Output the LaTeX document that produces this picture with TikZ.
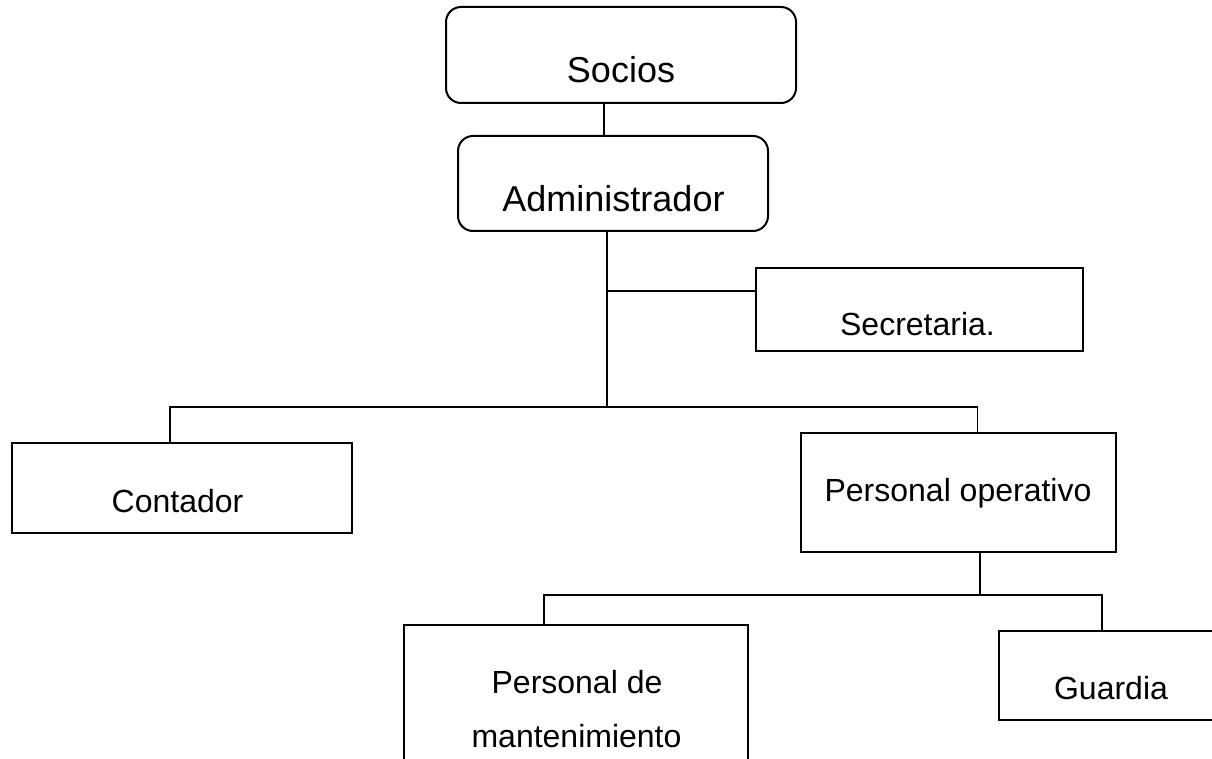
\documentclass[tikz,border=0pt]{standalone}
\usepackage{fontspec}
\setmainfont{Liberation Sans}
\begin{document}
\begin{tikzpicture}[x=1pt,y=-1pt,
  box/.style={draw, line width=2pt, inner sep=0pt, outer sep=0pt},
  rbox/.style={box, rounded corners=15pt},
  conn/.style={draw, line width=1.1pt},
  big/.style={anchor=base, inner sep=0pt, font=\fontsize{36}{43}\selectfont},
  txt/.style={anchor=base, inner sep=0pt, font=\fontsize{32}{38}\selectfont}]
\useasboundingbox (0,0) rectangle (1212,759);
\clip (0,0) rectangle (1212,759);
% boxes
\node[rbox, minimum width=350pt, minimum height=96pt] (soc) at (621,55) {};
\node[rbox, minimum width=310pt, minimum height=95pt] (adm) at (613,183.5) {};
\node[box, minimum width=327pt, minimum height=83pt] (sec) at (919.5,309.5) {};
\node[box, minimum width=340pt, minimum height=90pt] (cont) at (182,488) {};
\node[box, minimum width=315pt, minimum height=119pt] (po) at (958.5,492.5) {};
\node[box, minimum width=344pt, minimum height=175pt] (pm) at (576,712.5) {};
\node[box, minimum width=231pt, minimum height=89pt] (gua) at (1114.5,675.5) {};
% texts
\node[big] (tsoc) at (621,83) {Socios};
\node[big] (tadm) at (613.5,212) {Administrador};
\node[txt] (tsec) at (917.5,335) {Secretaria.};
\node[txt] (tcont) at (177.5,512) {Contador};
\node[txt] (tpo) at (958,501) {Personal operativo};
\node[txt] (tpm1) at (577,693) {Personal de};
\node[txt] (tpm2) at (576.5,747) {mantenimiento};
\node[txt] (tgua) at (1111,699) {Guardia};
% connectors
\coordinate (hub) at (607,407);
\coordinate (jsec) at (607,291);
\coordinate (hub2) at (980,595);
\draw[conn] ([xshift=-17pt]soc.south) -- ([xshift=-17pt]soc.south |- adm.north);
\draw[conn] ([xshift=-6pt]adm.south) -- (hub);
\draw[conn] (jsec) -- (jsec -| sec.west);
\draw[conn] ([xshift=-12pt]cont.north) -- ([xshift=-12pt]cont.north |- hub) -- ([xshift=19pt]po.north |- hub) -- ([xshift=19pt]po.north);
\draw[conn] (po.south -| hub2) -- (hub2);
\draw[conn] ([xshift=-32pt]pm.north) -- ([xshift=-32pt]pm.north |- hub2) -- ([xshift=-12.5pt]gua.north |- hub2) -- ([xshift=-12.5pt]gua.north);
\end{tikzpicture}
\end{document}
